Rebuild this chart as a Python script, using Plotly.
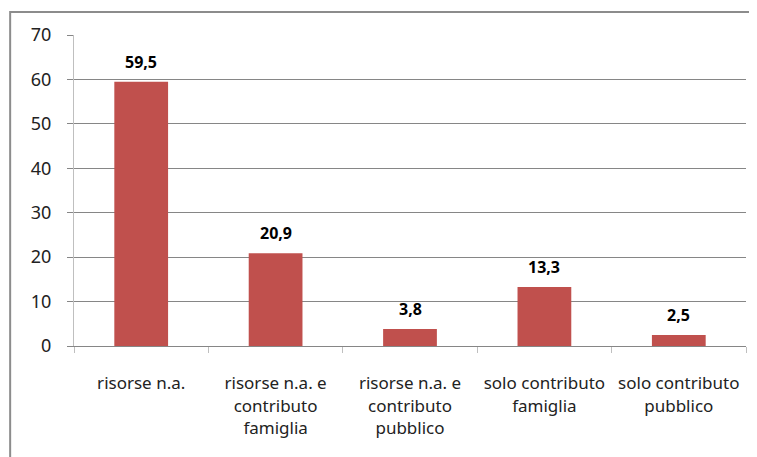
import plotly.graph_objects as go

categories = ["risorse n.a.",
              "risorse n.a. e<br>contributo<br>famiglia",
              "risorse n.a. e<br>contributo<br>pubblico",
              "solo contributo<br>famiglia",
              "solo contributo<br>pubblico"]
values = [59.5, 20.9, 3.8, 13.3, 2.5]
labels = ["59,5", "20,9", "3,8", "13,3", "2,5"]
y_ticks = [0, 10, 20, 30, 40, 50, 60, 70]

font_name = "Noto Sans"
bar_color = "#C0504D"
grid_color = "#868686"

fig = go.Figure(go.Bar(x=categories, y=values, marker=dict(color=bar_color, line=dict(width=0)),
                       width=0.4, hoverinfo="skip"))

for c, v, t in zip(categories, values, labels):
    fig.add_annotation(x=c, y=v, text="<b>%s</b>" % t, showarrow=False,
                       yshift=20, font=dict(family=font_name, size=16, color="black"))

# outer chart border
fig.add_shape(type="rect", xref="paper", yref="paper", x0=-0.095, x1=1.2, y0=-0.5, y1=1.074,
              line=dict(color="#8c8c8c", width=2), layer="below")

fig.update_layout(
    width=757, height=457,
    margin=dict(l=66, r=19, t=27, b=119),
    plot_bgcolor="white", paper_bgcolor="white",
    showlegend=False,
    separators=",.",
    font=dict(family=font_name, size=17, color="#222222"),
)
fig.update_yaxes(range=[0, 70], tickvals=y_ticks, showgrid=True, gridcolor=grid_color, gridwidth=1,
                 showline=True, linecolor="#bfbfbf", linewidth=1, ticks="outside", ticklen=6,
                 tickcolor=grid_color, ticklabelstandoff=12, zeroline=False,
                 tickfont=dict(family=font_name, size=18))
fig.update_xaxes(showline=True, linecolor=grid_color, linewidth=1, ticks="outside", ticklen=6,
                 tickcolor="#bfbfbf", tickson="boundaries", ticklabelstandoff=22,
                 tickfont=dict(family=font_name, size=17))

fig.write_html("out.html")
